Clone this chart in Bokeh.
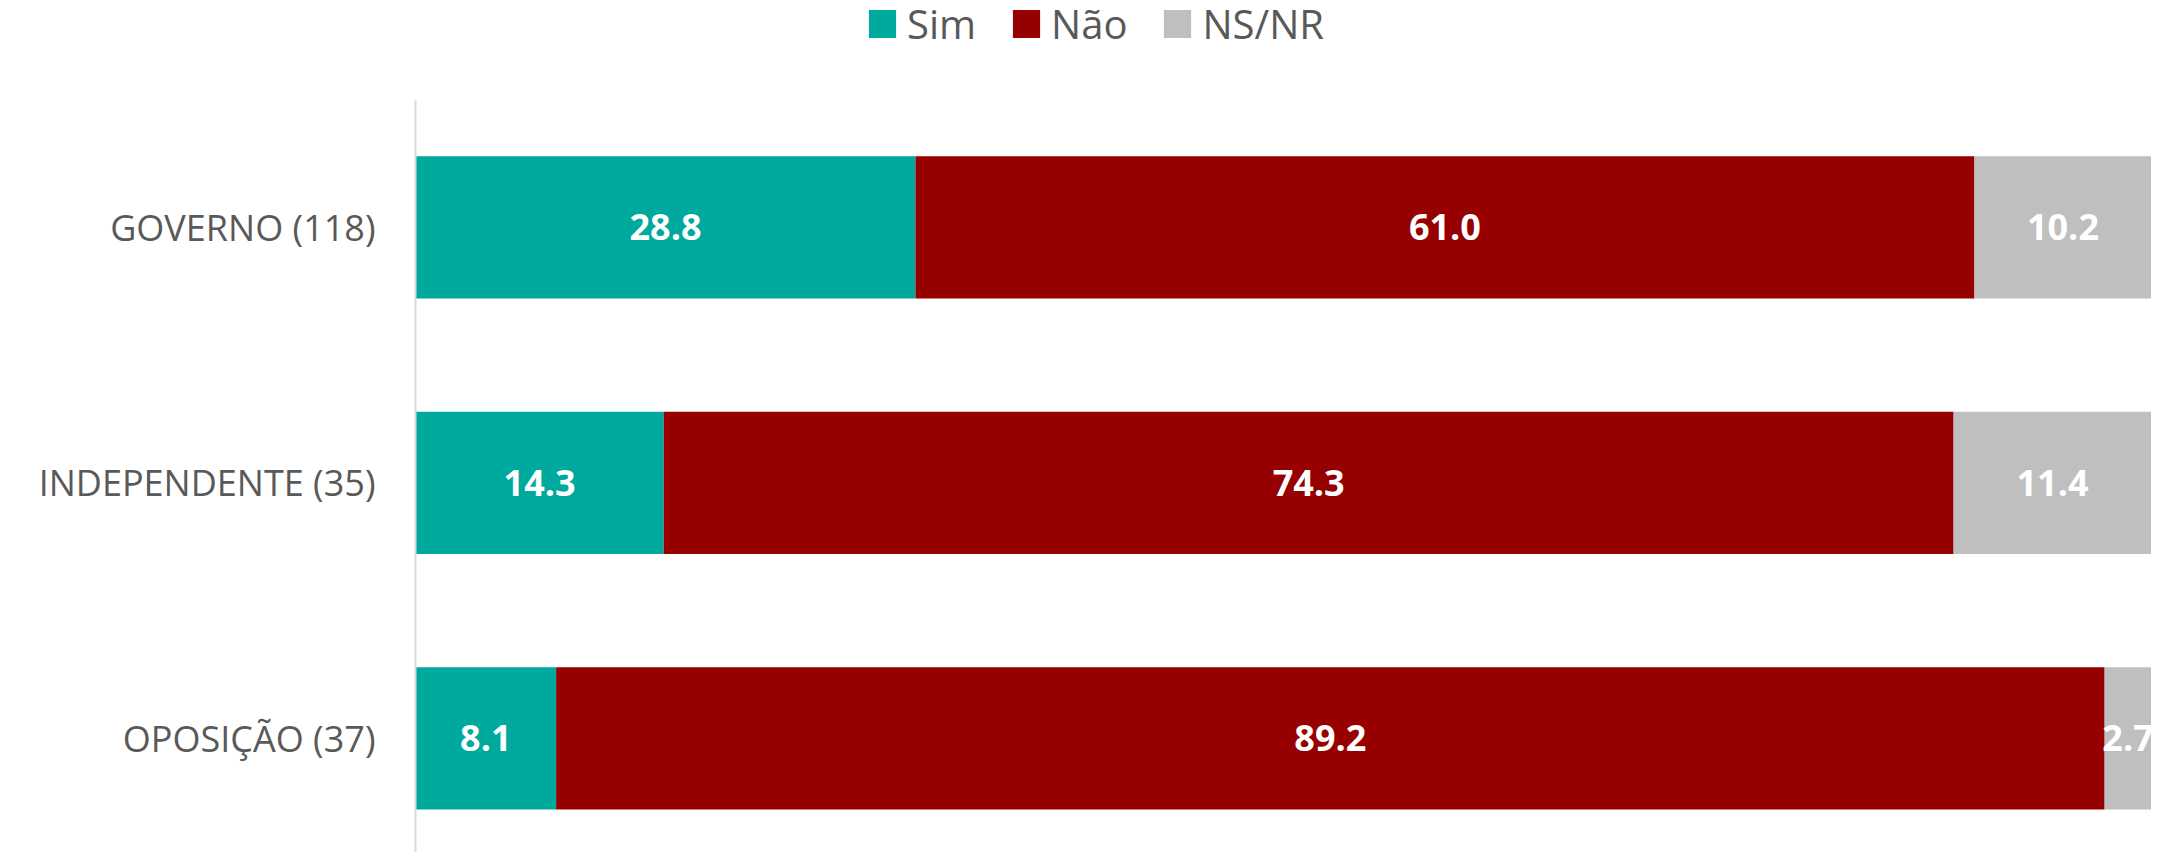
from bokeh.plotting import figure
from bokeh.models import ColumnDataSource, Legend, LegendItem, FixedTicker, Range1d
from bokeh.core.properties import value
from bokeh.embed import file_html
from bokeh.resources import INLINE
import numpy as np

categories = ["GOVERNO (118)", "INDEPENDENTE (35)", "OPOSIÇÃO (37)"]
series = ["Sim", "Não", "NS/NR"]
sim = [28.8, 14.3, 8.1]
nao = [61.0, 74.3, 89.2]
nsnr = [10.2, 11.4, 2.7]
colors = ["#00A99D", "#960000", "#BFBFBF"]

FONT = "Open Sans"
ypos = [2, 1, 0]

p = figure(width=2151, height=852, output_backend="svg", toolbar_location=None,
           x_range=Range1d(0, 100), y_range=Range1d(-0.4466, 2.888),
           min_border_left=415, min_border_right=0, min_border_top=0, min_border_bottom=0)
p.outline_line_color = None
p.xgrid.visible = False
p.ygrid.visible = False
p.xaxis.visible = False

src = ColumnDataSource(dict(y=ypos, Sim=sim, Nao=nao, NSNR=nsnr))
renderers = p.hbar_stack(["Sim", "Nao", "NSNR"], y="y", height=0.556, color=colors,
                         line_color=None, source=src)

vals = np.array([sim, nao, nsnr])
cum = np.cumsum(vals, axis=0)
centers = cum - vals / 2
lx, ly, lt = [], [], []
for i in range(3):
    for j in range(3):
        lx.append(centers[i][j]); ly.append(ypos[j]); lt.append(f"{vals[i][j]:.1f}")
lsrc = ColumnDataSource(dict(x=lx, y=ly, t=lt))
p.text(x="x", y="y", text="t", source=lsrc, text_color="white",
       text_font=value(FONT), text_font_style="bold", text_font_size="36px",
       text_align="center", text_baseline="middle")

p.yaxis.ticker = FixedTicker(ticks=ypos)
p.yaxis.bounds = (-0.4466, 2.497)
p.yaxis.major_label_overrides = {ypos[k]: categories[k] for k in range(3)}
p.yaxis.major_tick_out = 0
p.yaxis.major_tick_in = 0
p.yaxis.minor_tick_out = 0
p.yaxis.minor_tick_in = 0
p.yaxis.axis_line_color = "#D9D9D9"
p.yaxis.axis_line_width = 2
p.yaxis.major_label_standoff = 40
p.yaxis.major_label_text_font = FONT
p.yaxis.major_label_text_font_size = "36px"
p.yaxis.major_label_text_color = "#595959"

legend = Legend(items=[LegendItem(label=series[k], renderers=[renderers[k]]) for k in range(3)],
                orientation="horizontal", location=(450, 801),
                glyph_width=34, glyph_height=35, label_standoff=8, spacing=33,
                padding=0, margin=0, border_line_color=None, background_fill_alpha=0,
                label_text_font=FONT, label_text_font_size="40px", label_text_color="#595959",
                label_height=27)
p.add_layout(legend, "center")

open("out.html", "w").write(file_html(p, INLINE))
